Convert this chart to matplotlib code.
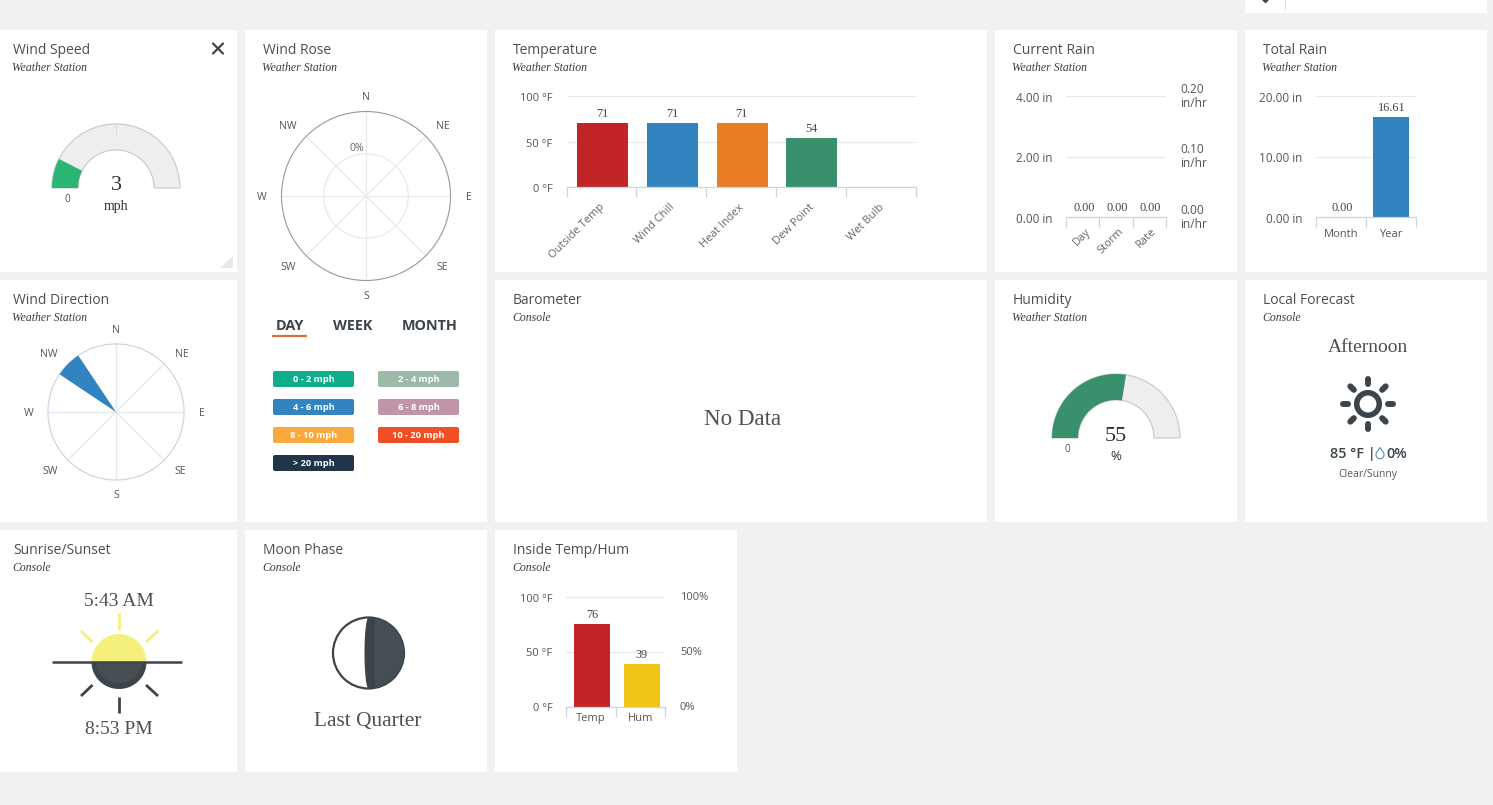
import numpy as np
import matplotlib
matplotlib.use('Agg')
import matplotlib.pyplot as plt
from matplotlib.patches import Rectangle, Circle, Polygon, FancyBboxPatch
from matplotlib.transforms import ScaledTranslation

# ---------- data ----------
temp_cats = ['Outside Temp', 'Wind Chill', 'Heat Index', 'Dew Point', 'Wet Bulb']
temp_vals = [71, 71, 71, 54, None]
temp_colors = ['#c12527', '#3184bf', '#e77e24', '#39906c', '#999999']
temp_ticks = [0, 50, 100]

rain_cats = ['Day', 'Storm', 'Rate']
rain_vals = [0.00, 0.00, 0.00]
rain_ticks = [0, 2, 4]
rain_rate_labels = ['0.00\nin/hr', '0.10\nin/hr', '0.20\nin/hr']

total_cats = ['Month', 'Year']
total_vals = [0.00, 16.61]
total_ticks = [0, 10, 20]

inside_cats = ['Temp', 'Hum']
inside_vals = [76, 39]
inside_colors = ['#c12527', '#f0c515']
inside_ticks = [0, 50, 100]
inside_hum_labels = ['0%', '50%', '100%']

wind_speed = 3
wind_speed_max = 20
humidity = 55
humidity_max = 100
wind_dir_deg = 315
wind_dir_width = 22.5
compass = ['N', 'NE', 'E', 'SE', 'S', 'SW', 'W', 'NW']

legend_labels = ['0 - 2 mph', '2 - 4 mph', '4 - 6 mph', '6 - 8 mph',
                 '8 - 10 mph', '10 - 20 mph', '> 20 mph']
legend_colors = ['#0fae8b', '#9db9a7', '#3184bf', '#c095a9', '#f8aa3e', '#f04e24', '#1f354a']

# ---------- style ----------
W, H = 1493, 805
BG = '#f1f1f1'
INK = '#4a4f55'
DARK = '#3b444b'
SANS = 'Open Sans'
SERIF = 'Liberation Serif'
GRID = '#e6e9ee'
AXIS = '#cdd5df'

fig = plt.figure(figsize=(W / 100, H / 100), dpi=100, facecolor=BG)
bg = fig.add_axes([0, 0, 1, 1], zorder=0)
bg.set_xlim(0, W); bg.set_ylim(H, 0); bg.axis('off')
top = fig.add_axes([0, 0, 1, 1], zorder=10)
top.set_xlim(0, W); top.set_ylim(H, 0); top.axis('off'); top.patch.set_alpha(0)


def T(x, y, s, size=8, color=INK, family=SANS, ha='center', va='center', **kw):
    return top.text(x, y + 1.5, s, fontsize=size, color=color, family=family, ha=ha, va=va, **kw)


cards = [
    (0, 30, 237, 242, 'Wind Speed', 'Weather Station'),
    (245, 30, 242, 492, 'Wind Rose', 'Weather Station'),
    (495, 30, 492, 242, 'Temperature', 'Weather Station'),
    (995, 30, 242, 242, 'Current Rain', 'Weather Station'),
    (1245, 30, 242, 242, 'Total Rain', 'Weather Station'),
    (0, 280, 237, 242, 'Wind Direction', 'Weather Station'),
    (495, 280, 492, 242, 'Barometer', 'Console'),
    (995, 280, 242, 242, 'Humidity', 'Weather Station'),
    (1245, 280, 242, 242, 'Local Forecast', 'Console'),
    (0, 530, 237, 242, 'Sunrise/Sunset', 'Console'),
    (245, 530, 242, 242, 'Moon Phase', 'Console'),
    (495, 530, 242, 242, 'Inside Temp/Hum', 'Console'),
]
for x, y, w, h, title, sub in cards:
    bg.add_patch(Rectangle((x, y), w, h, fc='white', ec='none'))
    tx = x + 13 if x == 0 else x + 18
    T(tx, y + 18.8, title, size=10, ha='left')
    T(tx - 0.5, y + 36.8, sub, size=8.5, ha='left', family=SERIF, style='italic', color='#3c3c3c')

# top partial card
bg.add_patch(Rectangle((1245, 0), 242, 13, fc='white', ec='none'))
bg.plot([1284.5, 1284.5], [0, 9], color='#dddddd', lw=0.8)
bg.add_patch(Polygon([[1262, 0], [1269, 0], [1265.5, 3.5]], fc=DARK, ec='none'))

# close icon and resize corner
top.plot([213, 223], [43.5, 53.5], color=DARK, lw=1.6, solid_capstyle='round')
top.plot([223, 213], [43.5, 53.5], color=DARK, lw=1.6, solid_capstyle='round')
bg.add_patch(Polygon([[233, 256], [233, 268], [220, 268]], fc='#e8e8e8', ec='none'))


# ---------- gauges ----------
def band(cx, cy, a0, a1, fc, ec='none', lw=0):
    R, r = 64, 38
    th = np.radians(np.linspace(a0, a1, 120))
    xy = np.c_[np.r_[cx + R * np.cos(th), cx + r * np.cos(th[::-1])],
               np.r_[cy - R * np.sin(th), cy - r * np.sin(th[::-1])]]
    top.add_patch(Polygon(xy, fc=fc, ec=ec, lw=lw))


def gauge(cx, cy, value, vmax, color, unit, ufont, zero_x, tick=False):
    band(cx, cy, 180, 0, '#eeeeee', '#cccccc', 0.9)
    if tick:
        top.plot([cx, cx], [cy - 64, cy - 53], color='#dcdcdc', lw=0.7)
    band(cx, cy, 180, 180 - 180 * value / vmax, color)
    T(cx, cy - 3.5, str(value), size=16, family=SERIF, color='#333333')
    T(cx, cy + 16.5, unit, size=ufont[0], family=ufont[1], color='#333333')
    T(zero_x, cy + 9.5, '0', size=7.2, color='#555555')


gauge(116, 188, wind_speed, wind_speed_max, '#2bb673', 'mph', (10, SERIF), 67.5, tick=True)
gauge(1116, 438, humidity, humidity_max, '#39906c', '%', (9.5, SANS), 1067)


# ---------- polar ----------
def polar(cx, cy, R):
    ax = fig.add_axes([(cx - R) / W, 1 - (cy + R) / H, 2 * R / W, 2 * R / H],
                      projection='polar', zorder=5)
    ax.set_theta_zero_location('N')
    ax.set_theta_direction(-1)
    ax.set_ylim(0, 1)
    ax.set_xticks(np.radians(np.arange(0, 360, 45)))
    ax.set_xticklabels([])
    ax.tick_params(length=0)
    ax.patch.set_alpha(0)
    return ax


rose = polar(366, 196, 84.5)
rose.set_yticks([0.5]); rose.set_yticklabels([])
rose.grid(True, color='#ebebeb', lw=1)
rose.spines['polar'].set_color('#999999'); rose.spines['polar'].set_linewidth(0.8)
for s, (x, y) in zip(compass, [(366, 96), (443, 125), (468.5, 196), (442, 266),
                               (366, 295), (288, 266), (262, 196), (288, 125)]):
    T(x, y, s, size=7.6, color='#555555')
T(357, 147, '0%', size=7.6, color='#666666')

wd = polar(116, 412, 68)
wd.set_yticks([])
wd.grid(True, color='#e6e9ee', lw=1)
wd.spines['polar'].set_color('#ccd6e4'); wd.spines['polar'].set_linewidth(0.9)
wd.bar([np.radians(wind_dir_deg)], [1], width=np.radians(wind_dir_width), color='#3184bf', zorder=3)
for s, (x, y) in zip(compass, [(116, 329), (182, 353), (201.5, 412), (180, 470),
                               (116, 494), (50, 470), (29, 412), (49, 353)]):
    T(x, y, s, size=7.6, color='#555555')

# wind rose tabs and legend
T(289.5, 324, 'DAY', size=10.4, weight='bold', color=DARK)
T(353, 324, 'WEEK', size=10.4, weight='bold', color=DARK)
T(430, 324, 'MONTH', size=10.4, weight='bold', color=DARK)
top.plot([272, 307], [336, 336], color='#d6713c', lw=1.6, solid_capstyle='butt')
for i, (lab, c) in enumerate(zip(legend_labels, legend_colors)):
    x = 273 + 105 * (i % 2)
    y = 371 + 28 * (i // 2)
    top.add_patch(FancyBboxPatch((x + 1, y + 1), 79, 14, boxstyle='round,pad=1,rounding_size=2',
                                 fc=c, ec='none'))
    T(x + 40.5, y + 6.5, lab, size=6.7, color='white', weight='bold')


# ---------- bars ----------
def bar_axes(x0, x1, y0, y1, ymax):
    ax = fig.add_axes([x0 / W, 1 - y1 / H, (x1 - x0) / W, (y1 - y0) / H], zorder=5)
    ax.patch.set_alpha(0)
    ax.set_ylim(0, ymax)
    for s in ('top', 'left', 'right'):
        ax.spines[s].set_visible(False)
    ax.spines['bottom'].set_color(AXIS)
    ax.spines['bottom'].set_linewidth(0.9)
    ax.grid(axis='y', color=GRID, lw=0.9)
    ax.set_axisbelow(True)
    ax.tick_params(axis='y', length=0, pad=10, labelcolor='#555555')
    return ax


def cat_axis(ax, cats, rot=False, size=8, off=(0, -11.5)):
    n = len(cats)
    ax.set_xlim(-0.5, n - 0.5)
    ax.set_xticks(np.arange(n + 1) - 0.5)
    ax.set_xticklabels([])
    ax.tick_params(axis='x', length=7.2, width=0.9, color=AXIS)
    for i, c in enumerate(cats):
        if rot:
            ax.annotate(c, (i, 0), xycoords=('data', 'axes fraction'), xytext=off,
                        textcoords='offset points', rotation=45, ha='right', va='top',
                        rotation_mode='anchor', fontsize=size, color='#666666', family=SANS)
        else:
            ax.annotate(c, (i, 0), xycoords=('data', 'axes fraction'), xytext=off,
                        textcoords='offset points', ha='center', va='center',
                        fontsize=size, color='#555555', family=SANS)


def vlabels(ax, xs, vals, fmt):
    for x, v in zip(xs, vals):
        if v is None:
            continue
        ax.annotate(fmt(v), (x, v), xytext=(0.6, 2.2), textcoords='offset points', ha='center',
                    va='bottom', fontsize=8.8, color='#444444', family=SERIF)


def set_yt(ax, ticks, labels, size=8, dy=0.8):
    ax.set_yticks(ticks)
    ax.set_yticklabels(labels, family=SANS, fontsize=size)
    nudge = ScaledTranslation(0, -dy / 100, fig.dpi_scale_trans)
    for lab in ax.get_yticklabels():
        lab.set_transform(lab.get_transform() + nudge)


def side_labels(ax, ticks, labels, size):
    for t, lab in zip(ticks, labels):
        ax.annotate(lab, (1, t), xycoords=('axes fraction', 'data'), xytext=(10.5, 0),
                    textcoords='offset points', ha='left', va='center', fontsize=size,
                    color='#555555', family=SANS, linespacing=1.12)


# bars sit about 1 px right of the band centre in the reference
BAR_SHIFT = 1.0


def bars(ax, x0, x1, vals, width, color):
    n = len(ax.get_xticks()) - 1
    step = BAR_SHIFT * n / (x1 - x0)
    ax.bar(np.arange(len(vals)) + step, vals, width=width, color=color)


# temperature
ax = bar_axes(566.5, 915.7, 96.3, 187.3, 100)
set_yt(ax, temp_ticks, [f'{t} °F' for t in temp_ticks])
cat_axis(ax, temp_cats, rot=True, off=(-1.6, -10.5))
xs = np.arange(len(temp_cats))
bars(ax, 566.5, 915.7, temp_vals[:4], 0.73, temp_colors[:4])
vlabels(ax, xs, temp_vals, str)

# current rain
ax = bar_axes(1066.3, 1165.7, 96.3, 217.3, 4)
set_yt(ax, rain_ticks, [f'{t:.2f} in' for t in rain_ticks], size=8.5, dy=0.2)
cat_axis(ax, rain_cats, rot=True, off=(1.5, -6))
ax.bar(range(3), rain_vals, width=0.73, color='#3184bf')
vlabels(ax, range(3), rain_vals, lambda v: f'{v:.2f}')
side_labels(ax, rain_ticks, rain_rate_labels, 8.6)

# total rain
ax = bar_axes(1316.3, 1415.7, 96.3, 217.3, 20)
set_yt(ax, total_ticks, [f'{t:.2f} in' for t in total_ticks], size=8.5, dy=0.2)
cat_axis(ax, total_cats, off=(0, -12.2))
ax.bar(range(2), total_vals, width=0.72, color='#3184bf')
vlabels(ax, range(2), total_vals, lambda v: f'{v:.2f}')

# inside temp / hum
ax = bar_axes(566.3, 665.4, 597.3, 707, 100)
set_yt(ax, inside_ticks, [f'{t} °F' for t in inside_ticks], dy=0.2)
cat_axis(ax, inside_cats, off=(0, -8))
bars(ax, 566.3, 665.4, inside_vals, 0.73, inside_colors)
vlabels(ax, range(2), inside_vals, str)
side_labels(ax, inside_ticks, inside_hum_labels, 8)

# ---------- text panels ----------
SER_C = '#505050'
T(743, 418, 'No Data', size=16.6, family=SERIF, color=SER_C)
T(1368, 345.5, 'Afternoon', size=14, family=SERIF, color=SER_C)
T(1330, 452, '85 °F |', size=10.4, color=DARK, weight='semibold', ha='left')
T(1386, 452, '0%', size=10.4, color=DARK, weight='semibold', ha='left')
T(1368, 473, 'Clear/Sunny', size=7.5, color='#555555')
T(119, 600, '5:43 AM', size=14, family=SERIF, color=SER_C)
T(119, 728, '8:53 PM', size=14, family=SERIF, color=SER_C)
T(368, 719.5, 'Last Quarter', size=15.4, family=SERIF, color=SER_C)

# raindrop
t = np.radians(np.linspace(-35, 215, 60))
dx = np.r_[1380, 1380 + 4 * np.cos(t)]
dy = np.r_[447.5, 454.7 + 4 * np.sin(t)]
top.add_patch(Polygon(np.c_[dx, dy], fc='none', ec='#6f93bd', lw=0.9))

# forecast sun icon
cx, cy = 1368, 404
top.add_patch(Circle((cx, cy), 11.25, fc='none', ec=DARK, lw=4))
for a in np.radians(np.arange(0, 360, 45)):
    top.plot([cx + 20 * np.cos(a), cx + 25 * np.cos(a)],
             [cy + 20 * np.sin(a), cy + 25 * np.sin(a)],
             color=DARK, lw=4.3, solid_capstyle='round')

# sunrise / sunset icon
sx, sy = 119, 662
YEL = '#f5ef7c'
th = np.linspace(0, np.pi, 60)
top.add_patch(Polygon(np.c_[sx + 27.5 * np.cos(th), sy - 28 * np.sin(th)], fc=YEL, ec='none'))
top.add_patch(Polygon(np.c_[sx + 27.5 * np.cos(th), sy + 27 * np.sin(th)], fc=DARK, ec='none'))
top.add_patch(Polygon(np.c_[sx + 23 * np.cos(th), sy + 21 * np.sin(th)], fc='#474f54', ec='none'))
top.plot([52, 182], [sy, sy], color=DARK, lw=1.8, solid_capstyle='butt')
for (x0, y0, x1, y1, c) in [(119, 613, 119, 630, YEL), (81, 631, 92.5, 642, YEL), (158, 631, 146, 642, YEL),
                            (119, 697, 119, 713, DARK), (81, 696, 92.5, 685, DARK), (158, 696, 146, 685, DARK)]:
    top.plot([x0, x1], [y0, y1], color=c, lw=2, solid_capstyle='butt')

# moon icon
mx, my, mr = 368.5, 653, 35.5
top.add_patch(Circle((mx, my), mr, fc='white', ec=DARK, lw=1.6))
a = np.linspace(-np.pi / 2, np.pi / 2, 60)
right = np.c_[mx + mr * np.cos(a), my + mr * np.sin(a)]
term = np.c_[mx - 4 * np.cos(a[::-1]), my + mr * np.sin(a[::-1])]
top.add_patch(Polygon(np.r_[right, term], fc=DARK, ec='none'))
keep = np.cos(a) * (mr - 0.5) > 7
inner_r = np.c_[mx + (mr - 0.5) * np.cos(a[keep]), my + (mr - 0.5) * np.sin(a[keep])]
inner_l = np.c_[mx + 7 - 1.5 * np.cos(a[keep][::-1]), my + (mr - 0.5) * np.sin(a[keep][::-1])]
top.add_patch(Polygon(np.r_[inner_r, inner_l], fc='#454e53', ec='none'))

fig.savefig('out.png', dpi=100, facecolor=BG)
